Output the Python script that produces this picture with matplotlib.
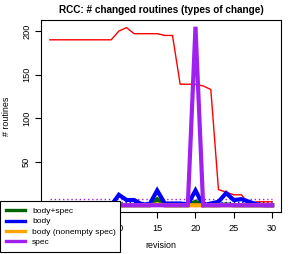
import numpy as np
import matplotlib
matplotlib.use("Agg")
import matplotlib.pyplot as plt
from matplotlib.lines import Line2D

plt.rcParams['font.family'] = ['Liberation Sans', 'DejaVu Sans']

revisions = list(range(1, 31))
total = [190, 190, 190, 190, 190, 190, 190, 190, 190, 200,
         204, 197, 197, 197, 197, 195, 195, 139, 139, 139,
         137, 133, 18, 15, 12, 12, 1, 4, 4, 4]
body_spec = [0, 0, 0, 0, 0, 0, 0, 0, 0, 0,
             0, 0, 0, 0, 7, 0, 0, 0, 0, 4,
             0, 0, 0, 1, 0, 0, 0, 0, 0, 0]
body = [0, 0, 0, 0, 0, 0, 0, 0, 0, 12,
        6, 6, 1, 1, 17, 2, 2, 2, 1, 17,
        0, 2, 4, 14, 6, 7, 4, 1, 0, 0]
body_nonempty = [0, 0, 0, 0, 0, 0, 0, 0, 0, 0,
                 0, 0, 0, 0, 1, 0, 0, 0, 0, 0,
                 0, 0, 0, 0, 0, 0, 0, 0, 0, 0]
spec = [0, 0, 0, 0, 0, 0, 0, 0, 0, 0,
        0, 0, 0, 0, 0, 0, 0, 0, 0, 205,
        0, 0, 0, 0, 0, 0, 0, 0, 0, 0]
labels = ["body+spec", "body", "body (nonempty spec)", "spec"]
colors = ["#006400", "#0000FF", "#FFA500", "#A020F0"]

W, H = 294, 254
fig = plt.figure(figsize=(W / 100, H / 100), dpi=100)
ax = fig.add_axes([41 / W, 1 - 212.4 / H, 240 / W, 192.8 / H])

x = np.array(revisions)
ax.hlines(np.mean(spec), x[0], x[-1], colors=colors[3], linestyles=(0, (1, 2)), lw=1.0)
ax.hlines(np.mean(body), x[0], x[-1], colors=colors[1], linestyles=(0, (1, 2)), lw=1.0)
ax.plot(x, total, color="#FF0000", lw=1.0)
series = [body_spec, body, body_nonempty, spec]
for s, c in zip(series, colors):
    ax.plot(x, s, color=c, lw=3.0, solid_joinstyle='miter')

xr = x[-1] - x[0]
ax.set_xlim(x[0] - 0.04 * xr, x[-1] + 0.04 * xr)
ymax = max(total + spec + body)
ax.set_ylim(-0.04 * ymax, ymax * 1.04)
ax.set_xticks([5, 10, 15, 20, 25, 30])
ax.set_yticks([0, 50, 100, 150, 200])
ax.tick_params(axis='x', labelsize=6.6, length=4.2, width=0.8, pad=4.5)
ax.tick_params(axis='y', labelsize=6.6, length=4.2, width=0.8, pad=3.0)
for lab in ax.get_yticklabels():
    lab.set_rotation(90)
    lab.set_va('center')
for sp in ax.spines.values():
    sp.set_linewidth(0.8)
ax.set_title("RCC: # changed routines (types of change)", fontsize=7.2,
             fontweight='bold', pad=5)
ax.set_xlabel("revision", fontsize=6.4, labelpad=5.5)
ax.set_ylabel("# routines", fontsize=6.4, labelpad=8)

handles = [Line2D([0], [0], color=c, lw=2.4) for c in colors]
leg = fig.legend(handles, labels, loc='lower left',
                 bbox_to_anchor=(0 / W, 2 / H, 120 / W, 50 / H), mode='expand',
                 fontsize=6, frameon=True, fancybox=False, handlelength=2.2,
                 handletextpad=0.9, borderaxespad=0, borderpad=0.75,
                 labelspacing=0.28)
leg.get_frame().set_edgecolor('black')
leg.get_frame().set_linewidth(0.8)
leg.get_frame().set_alpha(1)

fig.savefig("out.png", dpi=100)
